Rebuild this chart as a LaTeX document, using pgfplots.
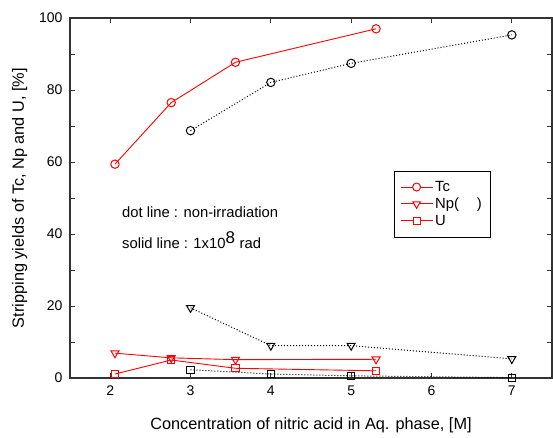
\documentclass[border=0pt]{standalone}
\usepackage{pgfplots}
\pgfplotsset{compat=1.18}
\usepackage{fontspec}
\setmainfont{Liberation Sans}
\definecolor{lred}{RGB}{255,0,0}
\begin{document}
\begin{tikzpicture}
\begin{axis}[
  scale only axis, width=482pt, height=360pt,
  xmin=1.5, xmax=7.5, ymin=0, ymax=100,
  xtick={2,3,4,5,6,7}, ytick={0,20,40,60,80,100},
  minor ytick={10,30,50,70,90},
  tick align=inside, tick pos=both,
  major tick length=5pt, minor tick length=5pt,
  axis line style={line width=1.1pt, black!80},
  every tick/.style={line width=1pt, black!80},
  ticklabel style={font=\fontsize{14}{16}\selectfont},
  xticklabel style={yshift=-4pt},
  yticklabel style={xshift=-4pt},
  /pgf/number format/assume math mode=true,
  xlabel={Concentration of nitric acid in Aq. phase, [M]},
  ylabel={Stripping yields of Tc, Np and U, [\%]},
  label style={font=\fontsize{16.3}{18}\selectfont},
  xlabel style={yshift=-15pt},
  ylabel style={yshift=5pt},
  clip=false,
  legend style={at={(0.672,0.575)}, anchor=north west,
     font=\fontsize{14.8}{16}\selectfont, row sep=1pt, inner xsep=6pt, inner ysep=8pt,
     /tikz/every even column/.append style={column sep=3pt}},
  legend cell align=left,
]
% non-irradiation (black dotted)
\addplot[forget plot, black, line width=1pt, dotted, mark=o, mark size=4.2pt, mark options={solid, fill=white, line width=1pt}]
 coordinates {(3,68.7) (4,82.1) (5,87.4) (7,95.3)};
\addplot[forget plot, black, line width=1pt, dotted, mark=triangle, mark size=4.6pt, mark options={solid, fill=white, rotate=180, line width=1pt}]
 coordinates {(3,19.5) (4,9.0) (5,9.0) (7,5.3)};
\addplot[forget plot, black, line width=1pt, dotted, mark=square, mark size=3.6pt, mark options={solid, fill=white, line width=1pt}]
 coordinates {(3,2.3) (4,1.1) (5,0.6) (7,0.1)};
% irradiated (red solid)
\addplot[forget plot, lred, line width=0.9pt, mark=o, mark size=4.2pt, mark options={draw=lred, fill=white, line width=1pt}]
 coordinates {(2.06,59.4) (2.76,76.5) (3.56,87.7) (5.31,97.0)};
\addplot[forget plot, lred, line width=0.9pt, mark=triangle, mark size=4.6pt, mark options={draw=lred, fill=white, rotate=180, line width=1pt}]
 coordinates {(2.06,6.9) (2.76,5.6) (3.56,5.1) (5.31,5.2)};
\addplot[forget plot, lred, line width=0.9pt, mark=square, mark size=3.6pt, mark options={draw=lred, fill=white, line width=1pt}]
 coordinates {(2.06,1.1) (2.76,5.0) (3.56,2.7) (5.31,2.0)};
\addlegendimage{legend image code/.code={%
  \draw[draw=lred, line width=1pt] (0pt,0pt) -- (32pt,0pt);
  \draw[draw=lred, fill=white, line width=1pt] (16pt,0pt) circle[radius=4pt];}}
\addlegendentry{Tc}
\addlegendimage{legend image code/.code={%
  \draw[draw=lred, line width=1pt] (0pt,0pt) -- (32pt,0pt);
  \draw[draw=lred, fill=white, line width=1pt] (12.2pt,2.2pt) -- (19.8pt,2.2pt) -- (16pt,-4.4pt) -- cycle;}}
\addlegendentry{Np(\hspace{18pt})}
\addlegendimage{legend image code/.code={%
  \draw[draw=lred, line width=1pt] (0pt,0pt) -- (32pt,0pt);
  \draw[draw=lred, fill=white, line width=1pt] (12.5pt,-3.5pt) rectangle (19.5pt,3.5pt);}}
\addlegendentry{U}
\node[anchor=west, font=\fontsize{14.8}{16}\selectfont, inner sep=0pt] at (axis cs:2.147,46.1) {dot line : non-irradiation};
\node[anchor=west, font=\fontsize{14.8}{16}\selectfont, inner sep=0pt] at (axis cs:2.147,38.3) {solid line : 1x10\textsuperscript{\fontsize{17}{17}\selectfont 8} rad};
\end{axis}
\pgfresetboundingbox
\path[use as bounding box] (current axis.south west) ++(-70pt,-59pt) rectangle ([shift={(1pt,18pt)}]current axis.north east);
\end{tikzpicture}
\end{document}
